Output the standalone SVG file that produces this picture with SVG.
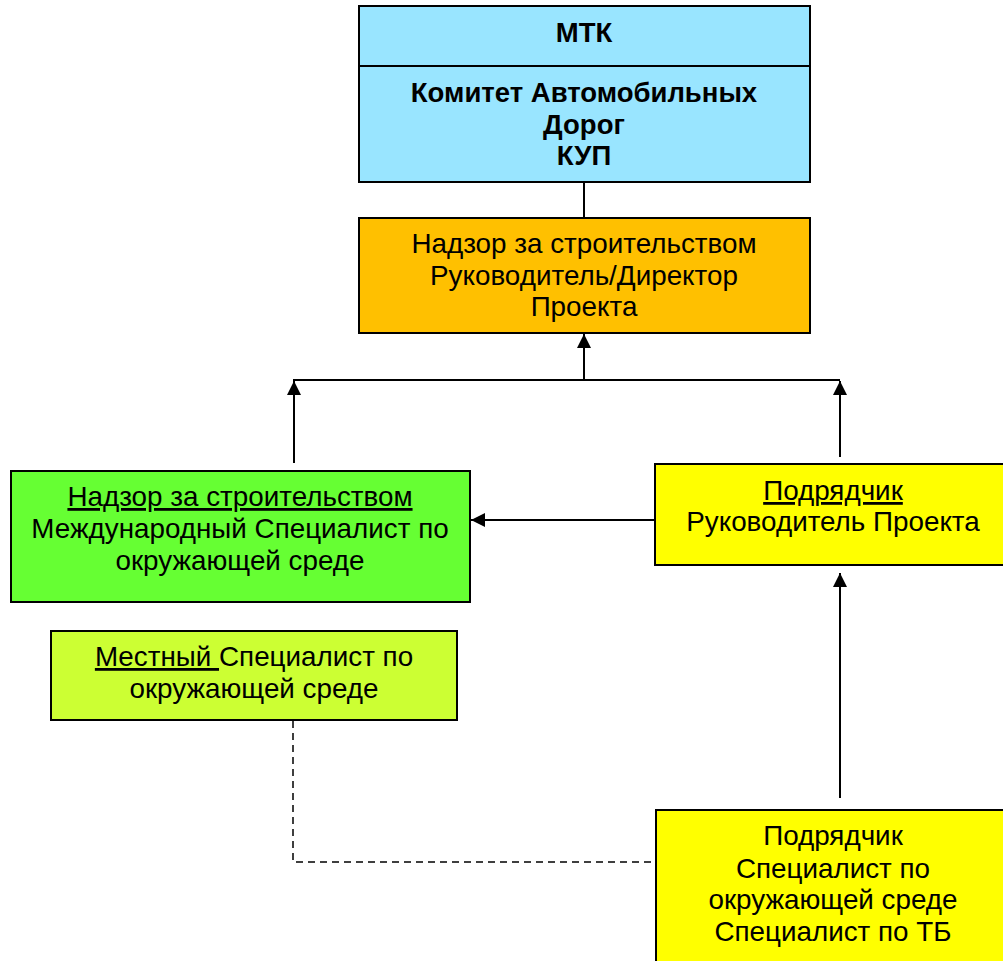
<svg xmlns="http://www.w3.org/2000/svg" width="1003" height="961" viewBox="0 0 1003 961">
<defs>
<style>
.box{stroke:#000;stroke-width:2}
.t{font-family:"Liberation Sans",Arial,sans-serif;font-size:27.8px;text-anchor:middle;fill:#000}
.b{font-weight:bold;font-size:27.5px}
.c{stroke:#000;stroke-width:2;fill:none}
.d{stroke:#000;stroke-width:1.5;fill:none;stroke-dasharray:7,5}
.u{text-decoration:underline}
</style>
<marker id="ah" viewBox="0 0 10 10" refX="10" refY="5" markerWidth="7" markerHeight="7" orient="auto" markerUnits="strokeWidth">
<path d="M0,0 L10,5 L0,10 z" fill="#000"/>
</marker>
</defs>
<rect width="1003" height="961" fill="#fff"/>
<g id="connectors">
<line class="c" x1="584" y1="182" x2="584" y2="217"/>
<line class="c" x1="584" y1="380" x2="584" y2="334" marker-end="url(#ah)"/>
<line class="c" x1="293" y1="380" x2="840" y2="380"/>
<line class="c" x1="294" y1="463" x2="294" y2="381" marker-end="url(#ah)"/>
<line class="c" x1="840" y1="457" x2="840" y2="381" marker-end="url(#ah)"/>
<line class="c" x1="655" y1="520" x2="471" y2="520" marker-end="url(#ah)"/>
<line class="c" x1="840" y1="798" x2="840" y2="573" marker-end="url(#ah)"/>
<polyline class="d" points="293,721 293,862 655,862"/>
</g>
<g id="mtk">
<rect class="box" x="359" y="6" width="451" height="176" fill="#99E5FF"/>
<line class="c" x1="359" y1="66" x2="810" y2="66"/>
<text class="t b" x="584" y="42">МТК</text>
<text class="t b" x="584" y="102">Комитет Автомобильных</text>
<text class="t b" x="584" y="134">Дорог</text>
<text class="t b" x="584" y="165">КУП</text>
</g>
<g id="supervision-director">
<rect class="box" x="359" y="218" width="451" height="115" fill="#FFC000"/>
<text class="t" x="584" y="253">Надзор за строительством</text>
<text class="t" x="584" y="285">Руководитель/Директор</text>
<text class="t" x="584" y="316">Проекта</text>
</g>
<g id="intl-specialist">
<rect class="box" x="11" y="471" width="459" height="131" fill="#66FF33"/>
<text class="t" x="240" y="506"><tspan class="u">Надзор за строительством</tspan></text>
<text class="t" x="240" y="538">Международный Специалист по</text>
<text class="t" x="240" y="570">окружающей среде</text>
</g>
<g id="contractor-pm">
<rect class="box" x="655" y="464" width="352" height="101" fill="#FFFF00"/>
<text class="t" x="833" y="500"><tspan class="u">Подрядчик</tspan></text>
<text class="t" x="833" y="531">Руководитель Проекта</text>
</g>
<g id="local-specialist">
<rect class="box" x="51" y="631" width="406" height="89" fill="#CCFF33"/>
<text class="t" x="254" y="666"><tspan class="u">Местный </tspan>Специалист по</text>
<text class="t" x="254" y="698">окружающей среде</text>
</g>
<g id="contractor-specialists">
<rect class="box" x="656" y="810" width="351" height="155" fill="#FFFF00"/>
<text class="t" x="833" y="845">Подрядчик</text>
<text class="t" x="833" y="878">Специалист по</text>
<text class="t" x="833" y="909">окружающей среде</text>
<text class="t" x="833" y="941">Специалист по ТБ</text>
</g>
</svg>
